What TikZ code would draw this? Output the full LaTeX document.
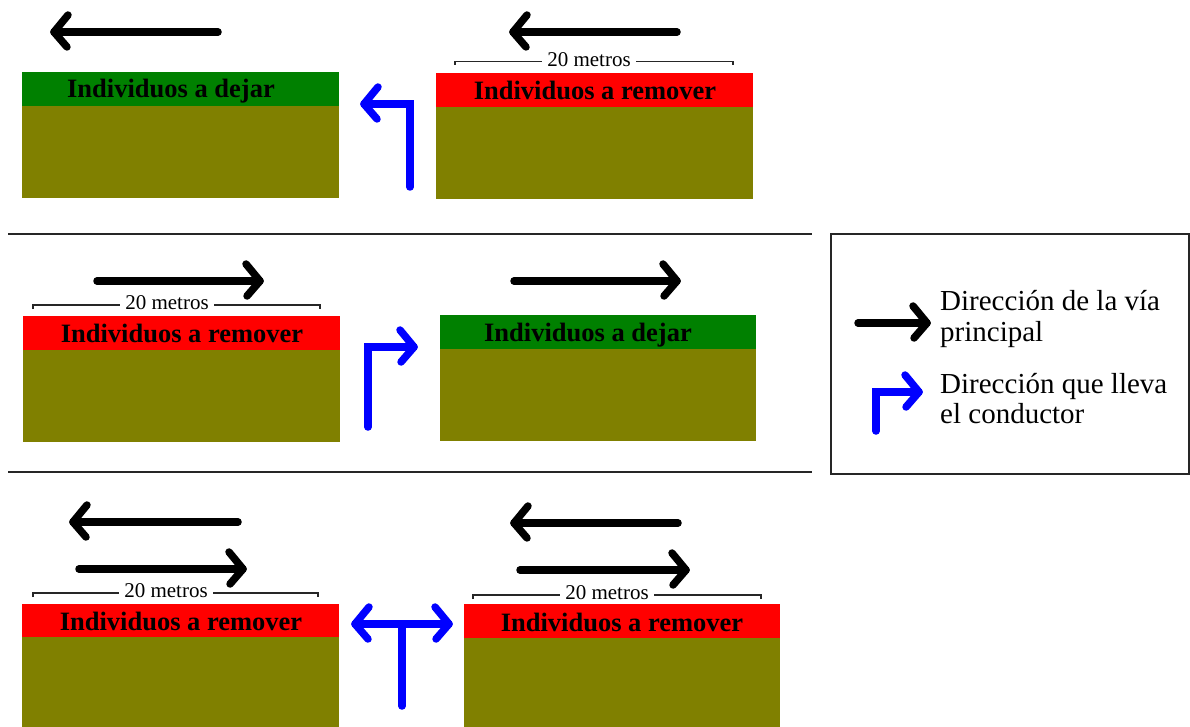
\documentclass[tikz,border=0pt]{standalone}
\usepackage{fontspec}
\setmainfont{Liberation Serif}
\definecolor{soil}{HTML}{808000}
\definecolor{leaf}{HTML}{008000}
\definecolor{hot}{HTML}{FF0000}
\definecolor{pure}{HTML}{0000FF}
\tikzset{
  blk/.style={line width=7.5pt, black, line cap=round, line join=round},
  blu/.style={line width=7.5pt, pure, line cap=round, line join=miter},
  buh/.style={line width=7.5pt, pure, line cap=round, line join=round},
  lbl/.style={font=\fontsize{26.5}{30}\selectfont\bfseries, inner sep=0pt, anchor=base},
  dimline/.style={line width=1.3pt, black!85},
  dimtxt/.style={font=\fontsize{21}{24}\selectfont, fill=white, inner sep=5pt, inner ysep=0pt},
  sepline/.style={line width=1.3pt, black!85},
  legtxt/.style={font=\fontsize{29}{33}\selectfont, inner sep=0pt, anchor=base west},
  pics/hl/.style={code={\draw (14,-17) -- (0,0) -- (13,15);}},
  pics/hr/.style={code={\draw (-14,-17) -- (0,0) -- (-13,15);}},
}
\begin{document}
\begin{tikzpicture}[x=1pt,y=-1pt]
\useasboundingbox (0,0) rectangle (1190,727);

% ---------- row 1 ----------
\fill[soil] (22,106) rectangle (339,198);
\fill[leaf] (22,72) rectangle (339,106);
\node[lbl] (r1a) at (171,98) {Individuos a dejar};
\fill[soil] (436,107) rectangle (753,199);
\fill[hot] (436,73) rectangle (753,107);
\node[lbl] (r1b) at (595,99.5) {Individuos a remover};

\draw[blk] (218,32) -- (54,32);
\pic[blk] at (54,32) {hl};
\draw[blk] (677,32) -- (513,32);
\pic[blk] at (513,32) {hl};

\draw[dimline] (455,65) -- (455,61.5) -- (733,61.5) -- (733,65);
\node[dimtxt] (d1) at (589,60) {20 metros};

\draw[blu] (410,187) -- (410,104) -- (364,104);
\pic[buh] at (364,104) {hl};

% separators
\draw[sepline] (8,234) -- (812,234);
\draw[sepline] (8,472) -- (812,472);

% ---------- row 2 ----------
\fill[soil] (23,350) rectangle (340,442);
\fill[hot] (23,316) rectangle (340,350);
\node[lbl] (r2a) at (182,342.5) {Individuos a remover};
\fill[soil] (440,349) rectangle (756,441);
\fill[leaf] (440,315) rectangle (756,349);
\node[lbl] (r2b) at (588,341) {Individuos a dejar};

\draw[blk] (97,281) -- (260,281);
\pic[blk] at (260,281) {hr};
\draw[blk] (514,281) -- (677,281);
\pic[blk] at (677,281) {hr};

\draw[dimline] (33,309) -- (33,305) -- (320,305) -- (320,309);
\node[dimtxt] (d2) at (167,303) {20 metros};

\draw[blu] (368,427) -- (368,347) -- (414,347);
\pic[buh] at (414,347) {hr};

% ---------- row 3 ----------
\fill[soil] (22,637) rectangle (339,727);
\fill[hot] (22,604) rectangle (339,637);
\node[lbl] (r3a) at (181,630.5) {Individuos a remover};
\fill[soil] (464,638) rectangle (780,727);
\fill[hot] (464,604) rectangle (780,638);
\node[lbl] (r3b) at (622,631) {Individuos a remover};

\draw[blk] (238,522) -- (73,522);
\pic[blk] at (73,522) {hl};
\draw[blk] (79,569) -- (243,569);
\pic[blk] at (243,569) {hr};
\draw[blk] (678,523) -- (514,523);
\pic[blk] at (514,523) {hl};
\draw[blk] (520,570) -- (686,570);
\pic[blk] at (686,570) {hr};

\draw[dimline] (33,597) -- (33,593) -- (318,593) -- (318,597);
\node[dimtxt] (d3) at (166,591) {20 metros};
\draw[dimline] (473,599) -- (473,595) -- (761,595) -- (761,599);
\node[dimtxt] (d4) at (607,593) {20 metros};

\draw[blu] (355,624) -- (449,624);
\draw[blu] (402,624) -- (402,706);
\pic[buh] at (355,624) {hl};
\pic[buh] at (449,624) {hr};

% ---------- legend ----------
\draw[sepline] (831,234) rectangle (1189,474);
\draw[blk] (858,323) -- (927,323);
\pic[blk] at (927,323) {hr};
\node[legtxt] (l1) at (940,310) {Dirección de la vía};
\node[legtxt] (l2) at (940,341) {principal};

\draw[blu] (876,431) -- (876,392) -- (919,392);
\pic[buh] at (919,392) {hr};
\node[legtxt] (l3) at (940,393) {Dirección que lleva};
\node[legtxt] (l4) at (940,423) {el conductor};
\end{tikzpicture}
\end{document}
